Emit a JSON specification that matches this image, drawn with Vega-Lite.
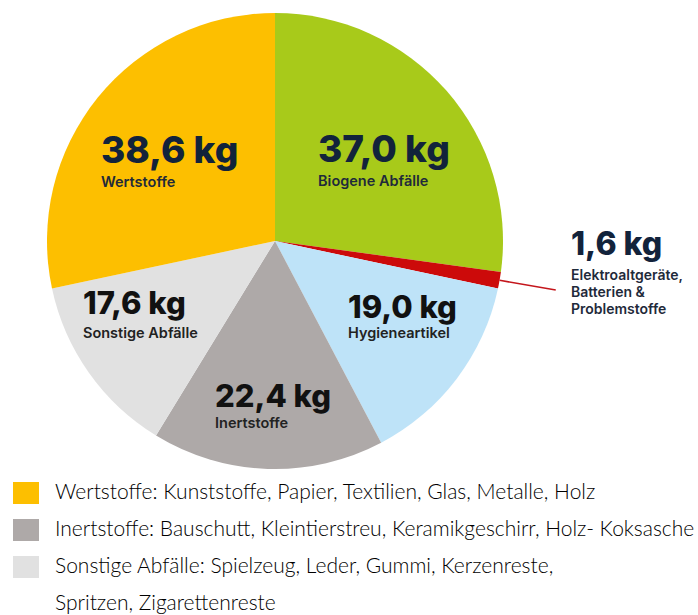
{
  "$schema": "https://vega.github.io/schema/vega-lite/v6.json",
  "width": 550,
  "height": 482,
  "autosize": {"type": "none"},
  "padding": {"left": 0, "top": 0, "right": 148, "bottom": 133},
  "background": "#ffffff",
  "config": {
    "view": {"stroke": null},
    "locale": {"number": {"decimal": ",", "thousands": ".", "grouping": [3], "currency": ["", " kg"]}}
  },
  "data": {
    "values": [
      {"cat": "Biogene Abfälle", "kg": 37.0, "sub": "Biogene Abfälle"},
      {"cat": "Elektroaltgeräte, Batterien & Problemstoffe", "kg": 1.6, "sub": "Elektroaltgeräte,\nBatterien &\nProblemstoffe"},
      {"cat": "Hygieneartikel", "kg": 19.0, "sub": "Hygieneartikel"},
      {"cat": "Inertstoffe", "kg": 22.4, "sub": "Inertstoffe"},
      {"cat": "Sonstige Abfälle", "kg": 17.6, "sub": "Sonstige Abfälle"},
      {"cat": "Wertstoffe", "kg": 38.6, "sub": "Wertstoffe"}
    ]
  },
  "encoding": {
    "theta": {"field": "kg", "type": "quantitative", "stack": true},
    "order": {"field": "cat", "type": "ordinal", "sort": "ascending"}
  },
  "layer": [
    {
      "mark": {"type": "arc", "radius": 228},
      "encoding": {
        "color": {
          "field": "cat",
          "type": "nominal",
          "scale": {
            "domain": ["Biogene Abfälle", "Elektroaltgeräte, Batterien & Problemstoffe", "Hygieneartikel", "Inertstoffe", "Sonstige Abfälle", "Wertstoffe", "Spritzen, Zigarettenreste"],
            "range": ["#a8ca1a", "#cc0a0a", "#bee3f8", "#aea9a8", "#e1e1e1", "#fdbf00", "rgba(0,0,0,0)"]
          },
          "legend": {
            "orient": "none",
            "legendX": 15,
            "legendY": 482,
            "direction": "vertical",
            "title": null,
            "padding": 0,
            "values": ["Wertstoffe", "Inertstoffe", "Sonstige Abfälle", "Spritzen, Zigarettenreste"],
            "symbolType": "M-1.18,-1H1.18V1H-1.18Z",
            "symbolSize": 484,
            "symbolStrokeWidth": 0,
            "symbolOpacity": 1,
            "labelFont": "Lato",
            "labelFontSize": 21,
            "labelFontWeight": 300,
            "labelColor": "#000000",
            "labelLimit": 2000,
            "labelOffset": 18,
            "rowPadding": 15,
            "labelExpr": "datum.value === 'Wertstoffe' ? 'Wertstoffe: Kunststoffe, Papier, Textilien, Glas, Metalle, Holz' : datum.value === 'Inertstoffe' ? 'Inertstoffe: Bauschutt, Kleintierstreu, Keramikgeschirr, Holz- Koksasche' : datum.value === 'Sonstige Abfälle' ? 'Sonstige Abfälle: Spielzeug, Leder, Gummi, Kerzenreste,' : datum.label"
          }
        }
      }
    },
    {
      "mark": {"type": "arc", "radius": 285, "radius2": 228, "padAngle": 0.5, "fill": "transparent", "strokeWidth": 1.6},
      "encoding": {
        "stroke": {"condition": {"test": "datum.cat === 'Elektroaltgeräte, Batterien & Problemstoffe'", "value": "#c4161c"}, "value": "transparent"}
      }
    },
    {
      "mark": {"type": "text", "radius": 148, "align": "left", "baseline": "alphabetic", "dx": -68.5, "dy": 18.3, "font": "Inter", "fontSize": 37, "fontWeight": 800, "fill": "#12233b"},
      "encoding": {"text": {"field": "kg", "type": "quantitative", "format": "$.1f", "condition": {"test": "datum.cat !== 'Biogene Abfälle'", "value": ""}}}
    },
    {
      "mark": {"type": "text", "radius": 148, "align": "left", "baseline": "alphabetic", "dx": -68.5, "dy": 42.3, "font": "Inter", "fontSize": 14.5, "fontWeight": 600, "fill": "#1f2a3a"},
      "encoding": {"text": {"field": "sub", "type": "nominal", "condition": {"test": "datum.cat !== 'Biogene Abfälle'", "value": ""}}}
    },
    {
      "mark": {"type": "text", "radius": 148, "align": "left", "baseline": "alphabetic", "dx": -59, "dy": 15.1, "font": "Inter", "fontSize": 37, "fontWeight": 800, "fill": "#12233b"},
      "encoding": {"text": {"field": "kg", "type": "quantitative", "format": "$.1f", "condition": {"test": "datum.cat !== 'Wertstoffe'", "value": ""}}}
    },
    {
      "mark": {"type": "text", "radius": 148, "align": "left", "baseline": "alphabetic", "dx": -59, "dy": 39.1, "font": "Inter", "fontSize": 14.5, "fontWeight": 600, "fill": "#1f2a3a"},
      "encoding": {"text": {"field": "sub", "type": "nominal", "condition": {"test": "datum.cat !== 'Wertstoffe'", "value": ""}}}
    },
    {
      "mark": {"type": "text", "radius": 148, "align": "left", "baseline": "alphabetic", "dx": -45, "dy": -12.4, "font": "Inter", "fontSize": 31, "fontWeight": 800, "fill": "#111111"},
      "encoding": {"text": {"field": "kg", "type": "quantitative", "format": "$.1f", "condition": {"test": "datum.cat !== 'Hygieneartikel'", "value": ""}}}
    },
    {
      "mark": {"type": "text", "radius": 148, "align": "left", "baseline": "alphabetic", "dx": -45, "dy": 7.6, "font": "Inter", "fontSize": 14.5, "fontWeight": 600, "fill": "#222222"},
      "encoding": {"text": {"field": "sub", "type": "nominal", "condition": {"test": "datum.cat !== 'Hygieneartikel'", "value": ""}}}
    },
    {
      "mark": {"type": "text", "radius": 148, "align": "left", "baseline": "alphabetic", "dx": -71.2, "dy": -12.5, "font": "Inter", "fontSize": 31, "fontWeight": 800, "fill": "#111111"},
      "encoding": {"text": {"field": "kg", "type": "quantitative", "format": "$.1f", "condition": {"test": "datum.cat !== 'Sonstige Abfälle'", "value": ""}}}
    },
    {
      "mark": {"type": "text", "radius": 148, "align": "left", "baseline": "alphabetic", "dx": -71.2, "dy": 11.5, "font": "Inter", "fontSize": 14.5, "fontWeight": 600, "fill": "#222222"},
      "encoding": {"text": {"field": "sub", "type": "nominal", "condition": {"test": "datum.cat !== 'Sonstige Abfälle'", "value": ""}}}
    },
    {
      "mark": {"type": "text", "radius": 148, "align": "left", "baseline": "alphabetic", "dx": -55.2, "dy": 18.1, "font": "Inter", "fontSize": 31, "fontWeight": 800, "fill": "#111111"},
      "encoding": {"text": {"field": "kg", "type": "quantitative", "format": "$.1f", "condition": {"test": "datum.cat !== 'Inertstoffe'", "value": ""}}}
    },
    {
      "mark": {"type": "text", "radius": 148, "align": "left", "baseline": "alphabetic", "dx": -55.2, "dy": 39.1, "font": "Inter", "fontSize": 14.5, "fontWeight": 600, "fill": "#222222"},
      "encoding": {"text": {"field": "sub", "type": "nominal", "condition": {"test": "datum.cat !== 'Inertstoffe'", "value": ""}}}
    },
    {
      "mark": {"type": "text", "radius": 148, "align": "left", "baseline": "alphabetic", "dx": 150.2, "dy": -11.5, "font": "Inter", "fontSize": 32, "fontWeight": 800, "fill": "#12233b"},
      "encoding": {"text": {"field": "kg", "type": "quantitative", "format": "$.1f", "condition": {"test": "datum.cat !== 'Elektroaltgeräte, Batterien & Problemstoffe'", "value": ""}}}
    },
    {
      "mark": {"type": "text", "radius": 148, "align": "left", "baseline": "alphabetic", "dx": 150.2, "dy": 13.5, "lineBreak": "\n", "lineHeight": 16.8, "font": "Inter", "fontSize": 14, "fontWeight": 600, "fill": "#1f2a3a"},
      "encoding": {"text": {"field": "sub", "type": "nominal", "condition": {"test": "datum.cat !== 'Elektroaltgeräte, Batterien & Problemstoffe'", "value": ""}}}
    }
  ]
}
